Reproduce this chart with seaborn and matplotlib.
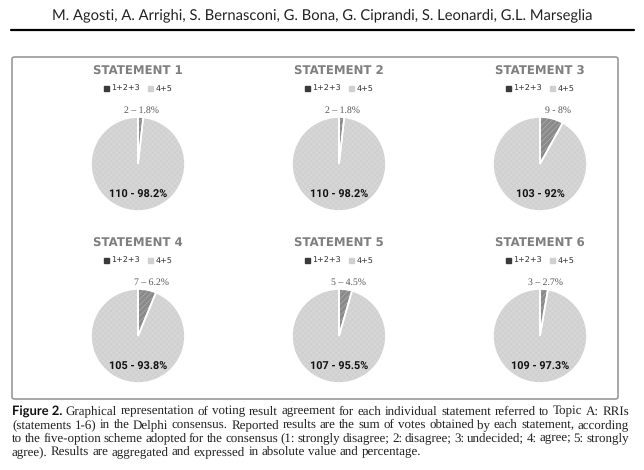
import numpy as np
import matplotlib
matplotlib.use("Agg")
import matplotlib.pyplot as plt
import seaborn as sns
from matplotlib.lines import Line2D
from matplotlib.patches import FancyBboxPatch

# data
statements = ['STATEMENT 1', 'STATEMENT 2', 'STATEMENT 3',
              'STATEMENT 4', 'STATEMENT 5', 'STATEMENT 6']
legend_labels = ['1+2+3', '4+5']
disagree_votes = [2, 2, 9, 7, 5, 3]
agree_votes = [110, 110, 103, 105, 107, 109]
disagree_pct = ['1.8%', '1.8%', '8%', '6.2%', '4.5%', '2.7%']
agree_pct = ['98.2%', '98.2%', '92%', '93.8%', '95.5%', '97.3%']
disagree_sep = ['\u2013', '\u2013', '-', '\u2013', '\u2013', '\u2013']

authors = 'M. Agosti, A. Arrighi, S. Bernasconi, G. Bona, G. Ciprandi, S. Leonardi, G.L. Marseglia'
caption_lines = [
    'Graphical representation of voting result agreement for each individual statement referred to Topic A: RRIs',
    '(statements 1-6) in the Delphi consensus. Reported results are the sum of votes obtained by each statement, according',
    'to the five-option scheme adopted for the consensus (1: strongly disagree; 2: disagree; 3: undecided; 4: agree; 5: strongly',
    'agree). Results are aggregated and expressed in absolute value and percentage.',
]

sns.set_theme(style='white')
plt.rcParams['hatch.linewidth'] = 0.3
plt.rcParams['text.hinting'] = 'none'

W, H = 644, 470
fig = plt.figure(figsize=(W / 100, H / 100), dpi=100)
fig.patch.set_facecolor('white')


def fx(px):
    return px / W


def fy(py):
    return 1 - py / H


# header
fig.text(fx(322), fy(15), authors, ha='center', va='center',
         fontsize=10.6, family='Lato', color='#222222')
fig.add_artist(Line2D([fx(11), fx(634)], [fy(30), fy(30)], color='black', lw=1.6))

# frame round the pies
box = FancyBboxPatch((fx(12), fy(399)), fx(618) - fx(12), fy(57) - fy(399),
                     boxstyle='round,pad=0,rounding_size=0.004',
                     transform=fig.transFigure, fill=False,
                     edgecolor='#9a9a9a', lw=1.2)
fig.add_artist(box)

pal = ['#8a8a8a', '#d6d6d6']
hatch_col = ['#c4c4c4', '#cacaca']
col_x = [138, 339, 540]
row_y = [164, 336]
r_px = 47

for i, name in enumerate(statements):
    cx = col_x[i % 3]
    cy = row_y[i // 3]
    votes = [disagree_votes[i], agree_votes[i]]
    ax = fig.add_axes([fx(cx - r_px), fy(cy + r_px), 2 * r_px / W, 2 * r_px / H])
    wedges, _ = ax.pie(votes, colors=pal, startangle=90, counterclock=False,
                       wedgeprops=dict(linewidth=0.3))
    wedges[0].set_hatch('//////')
    wedges[1].set_hatch('xxxxxx')
    for w, c in zip(wedges, hatch_col):
        w.set_edgecolor(c)
    # white separators on top of the hatched wedges
    ax.pie(votes, colors=['none', 'none'], startangle=90, counterclock=False,
           wedgeprops=dict(edgecolor='white', linewidth=1.2, fill=False))
    ax.set_xlim(-1, 1)
    ax.set_ylim(-1, 1)
    ax.axis('off')

    ax.text(0, 1.96, name, ha='center', va='center', fontsize=8.5,
            fontweight='bold', family='DejaVu Sans', color='#7f7f7f')

    handles = [plt.Rectangle((0, 0), 1, 1, color=c) for c in ['#3a3a3a', '#d0d0d0']]
    ax.legend(handles, legend_labels, loc='center', bbox_to_anchor=(0.5, 1.30),
              ncol=2, frameon=False, fontsize=5.8, handlelength=0.6,
              handleheight=0.6, handletextpad=0.3, columnspacing=1.0,
              labelcolor='#333333')

    share = disagree_votes[i] / sum(votes)
    mid = np.deg2rad(90 - 180 * share)
    ax.text(1.5 * np.cos(mid), 1.13,
            f'{disagree_votes[i]} {disagree_sep[i]} {disagree_pct[i]}',
            ha='center', va='center', fontsize=7, family='Liberation Serif',
            color='#555555')
    ax.text(0, -0.66, f'{agree_votes[i]} - {agree_pct[i]}', ha='center',
            va='center', fontsize=7.8, fontweight='bold', family='Roboto',
            color='#111111')

# caption, justified word by word
renderer = fig.canvas.get_renderer()
serif = dict(fontsize=9.4, family='Liberation Serif', color='#222222')
bold = dict(fontsize=9.4, family='Lato', fontweight='bold', color='#111111')


def width_of(word, props):
    t = fig.text(0, 0, word, **props)
    w = t.get_window_extent(renderer).width
    t.remove()
    return w


x_left, x_right = 12, 629
baselines = [414.5, 428, 441.5, 455]
space = width_of('a b', serif) - width_of('ab', serif)
for k, line in enumerate(caption_lines):
    words = [(w, serif) for w in line.split(' ')]
    if k == 0:
        words = [('Figure 2.', bold)] + words
    widths = [width_of(w, p) for w, p in words]
    if k < len(caption_lines) - 1:
        gap = (x_right - x_left - sum(widths)) / (len(words) - 1)
    else:
        gap = space
    x = x_left
    for (w, p), wd in zip(words, widths):
        fig.text(fx(x), fy(baselines[k]), w, ha='left', va='baseline', **p)
        x += wd + gap

fig.savefig('out.png', dpi=100)
